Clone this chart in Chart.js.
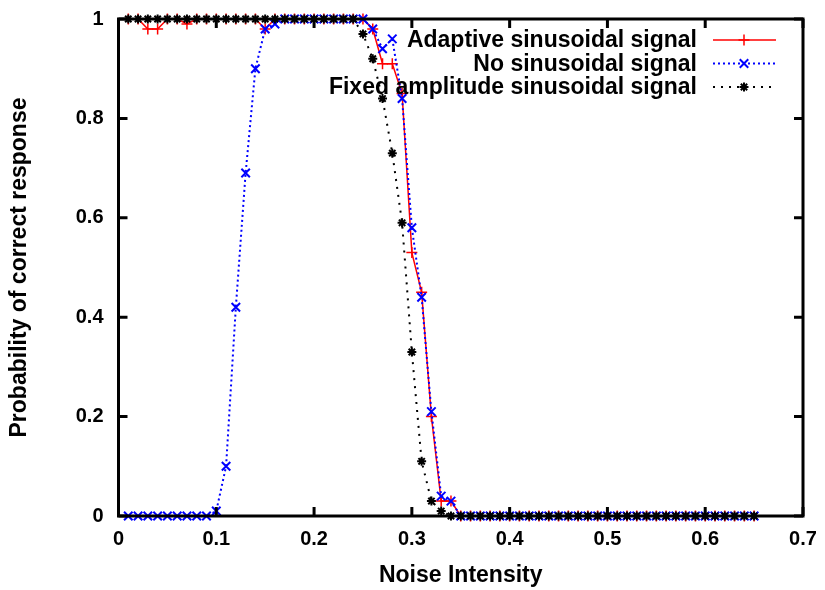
<!DOCTYPE html>
<html>
<head>
<meta charset="utf-8">
<script src="https://cdn.jsdelivr.net/npm/chart.js@4/dist/chart.umd.min.js"></script>
<style>
  body { margin: 0; background: #fff; }
  #wrap { width: 825px; height: 590px; }
</style>
</head>
<body>
<div id="wrap"><canvas id="chart"></canvas></div>
<script>
const noise = [
  0.01, 0.02, 0.03, 0.04, 0.05, 0.06, 0.07, 0.08, 0.09, 0.10,
  0.11, 0.12, 0.13, 0.14, 0.15, 0.16, 0.17, 0.18, 0.19, 0.20,
  0.21, 0.22, 0.23, 0.24, 0.25, 0.26, 0.27, 0.28, 0.29, 0.30,
  0.31, 0.32, 0.33, 0.34, 0.35, 0.36, 0.37, 0.38, 0.39, 0.40,
  0.41, 0.42, 0.43, 0.44, 0.45, 0.46, 0.47, 0.48, 0.49, 0.50,
  0.51, 0.52, 0.53, 0.54, 0.55, 0.56, 0.57, 0.58, 0.59, 0.60,
  0.61, 0.62, 0.63, 0.64, 0.65
];
const adaptive = [
  1, 1, 0.98, 0.98, 1, 1, 0.99, 1, 1, 1,
  1, 1, 1, 1, 0.98, 1, 1, 1, 1, 1,
  1, 1, 1, 1, 1, 0.98, 0.91, 0.91, 0.85, 0.53,
  0.45, 0.20, 0.03, 0.03, 0, 0, 0, 0, 0, 0,
  0, 0, 0, 0, 0, 0, 0, 0, 0, 0,
  0, 0, 0, 0, 0, 0, 0, 0, 0, 0,
  0, 0, 0, 0, 0
];
const noSignal = [
  0, 0, 0, 0, 0, 0, 0, 0, 0, 0.01,
  0.10, 0.42, 0.69, 0.90, 0.98, 0.99, 1, 1, 1, 1,
  1, 1, 1, 1, 1, 0.98, 0.94, 0.96, 0.84, 0.58,
  0.44, 0.21, 0.04, 0.03, 0, 0, 0, 0, 0, 0,
  0, 0, 0, 0, 0, 0, 0, 0, 0, 0,
  0, 0, 0, 0, 0, 0, 0, 0, 0, 0,
  0, 0, 0, 0, 0
];
const fixedAmp = [
  1, 1, 1, 1, 1, 1, 1, 1, 1, 1,
  1, 1, 1, 1, 1, 1, 1, 1, 1, 1,
  1, 1, 1, 1, 0.97, 0.92, 0.84, 0.73, 0.59, 0.33,
  0.11, 0.03, 0.01, 0, 0, 0, 0, 0, 0, 0,
  0, 0, 0, 0, 0, 0, 0, 0, 0, 0,
  0, 0, 0, 0, 0, 0, 0, 0, 0, 0,
  0, 0, 0, 0, 0
];
const seriesNames = [
  "Adaptive sinusoidal signal",
  "No sinusoidal signal",
  "Fixed amplitude sinusoidal signal"
];

const FONT = "'Liberation Sans', Arial, sans-serif";

function pts(ys) {
  return noise.map((x, i) => ({ x: x, y: ys[i] }));
}

// box, inward ticks and the legend, gnuplot style
const frame = {
  id: "frame",
  afterDatasetsDraw(chart) {
    const ctx = chart.ctx;
    const a = chart.chartArea;
    const xs = chart.scales.x, ys = chart.scales.y;
    ctx.save();
    ctx.strokeStyle = "#000";
    ctx.lineWidth = 3;
    ctx.beginPath();
    xs.ticks.forEach(t => {
      const px = xs.getPixelForValue(t.value);
      ctx.moveTo(px, a.bottom); ctx.lineTo(px, a.bottom - 9);
      ctx.moveTo(px, a.top); ctx.lineTo(px, a.top + 9);
    });
    ys.ticks.forEach(t => {
      const py = ys.getPixelForValue(t.value);
      ctx.moveTo(a.left, py); ctx.lineTo(a.left + 9, py);
      ctx.moveTo(a.right, py); ctx.lineTo(a.right - 9, py);
    });
    ctx.stroke();
    ctx.strokeRect(a.left, a.top, a.right - a.left, a.bottom - a.top);

    // legend
    ctx.font = "bold 23px " + FONT;
    ctx.textAlign = "right";
    ctx.textBaseline = "middle";
    chart.data.datasets.forEach((ds, i) => {
      const y = 40 + i * 23.5;
      ctx.fillStyle = "#000";
      ctx.fillText(seriesNames[i], 697, y + 1);
      ctx.save();
      ctx.strokeStyle = ds.borderColor;
      ctx.lineWidth = ds.borderWidth;
      ctx.setLineDash(ds.borderDash || []);
      ctx.beginPath();
      ctx.moveTo(713, y); ctx.lineTo(776, y);
      ctx.stroke();
      ctx.setLineDash([]);
      ctx.lineWidth = ds.pointBorderWidth;
      Chart.helpers.drawPoint(ctx, {
        pointStyle: ds.pointStyle,
        radius: ds.pointRadius,
        borderWidth: ds.pointBorderWidth,
        rotation: 0
      }, 744, y);
      ctx.restore();
    });
    ctx.restore();
  }
};

const tickFmt = v => String(Number(v.toFixed(1)));

new Chart(document.getElementById("chart"), {
  type: "line",
  data: {
    datasets: [
      {
        label: seriesNames[0],
        data: pts(adaptive),
        borderColor: "#ff0000",
        backgroundColor: "#ff0000",
        borderWidth: 1.5,
        pointStyle: "cross",
        pointRadius: 5.5,
        pointBorderWidth: 1.5,
        order: 3
      },
      {
        label: seriesNames[1],
        data: pts(noSignal),
        borderColor: "#0000ff",
        backgroundColor: "#0000ff",
        borderWidth: 2,
        borderDash: [2, 3],
        pointStyle: "crossRot",
        pointRadius: 6,
        pointBorderWidth: 2,
        order: 2
      },
      {
        label: seriesNames[2],
        data: pts(fixedAmp),
        borderColor: "#000000",
        backgroundColor: "#000000",
        borderWidth: 2,
        borderDash: [2, 6],
        pointStyle: "star",
        pointRadius: 4.5,
        pointBorderWidth: 2,
        order: 1
      }
    ]
  },
  options: {
    responsive: true,
    maintainAspectRatio: false,
    animation: false,
    clip: false,
    layout: { padding: { top: 17, right: 22, left: 0, bottom: 0 } },
    elements: { line: { tension: 0, fill: false } },
    plugins: { legend: { display: false }, tooltip: { enabled: false } },
    scales: {
      x: {
        type: "linear",
        min: 0,
        max: 0.7,
        afterFit(s) { s.height = 74; },
        border: { display: false },
        grid: { display: false },
        ticks: {
          stepSize: 0.1,
          padding: 3,
          color: "#000",
          callback: tickFmt,
          font: { family: FONT, size: 20, weight: "bold" }
        },
        title: {
          display: true,
          text: "Noise Intensity",
          color: "#000",
          padding: { top: 0, bottom: 1 },
          font: { family: FONT, size: 23, weight: "bold" }
        }
      },
      y: {
        min: 0,
        max: 1,
        afterFit(s) { s.width = 118.5; },
        border: { display: false },
        grid: { display: false },
        ticks: {
          stepSize: 0.2,
          padding: 7,
          color: "#000",
          callback: tickFmt,
          font: { family: FONT, size: 20, weight: "bold" }
        },
        title: {
          display: true,
          text: "Probability of correct response",
          color: "#000",
          padding: { top: 6, bottom: 0 },
          font: { family: FONT, size: 23, weight: "bold" }
        }
      }
    }
  },
  plugins: [frame]
});
</script>
</body>
</html>
